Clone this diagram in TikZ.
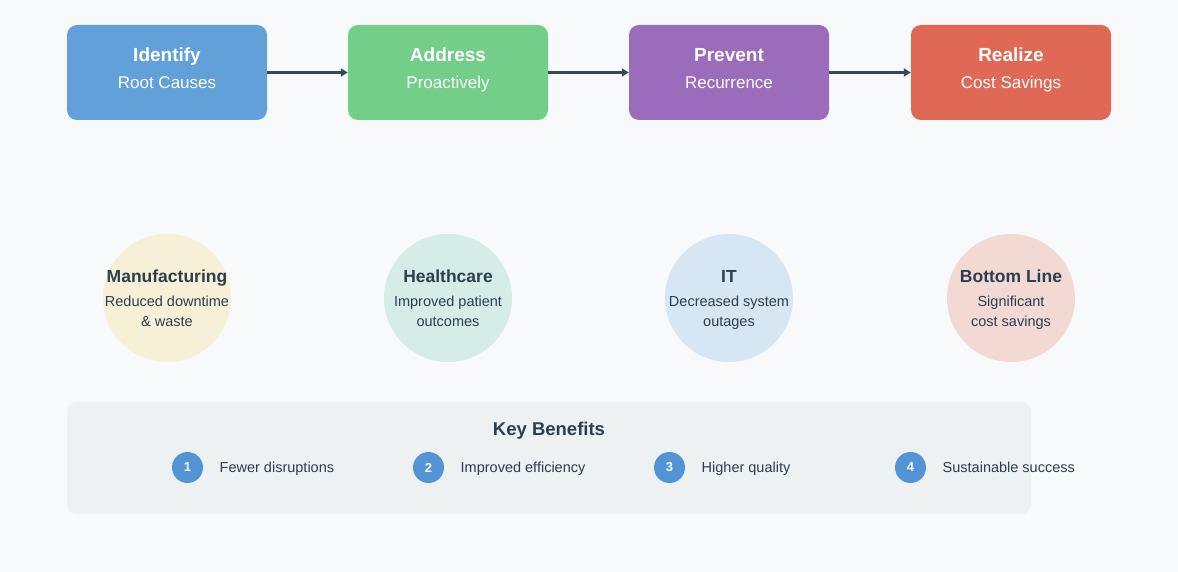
\documentclass[tikz,border=0pt]{standalone}
\usepackage{fontspec}
\setmainfont{Liberation Sans}
\usetikzlibrary{arrows.meta}
\definecolor{bg}{HTML}{F8F9FB}
\definecolor{cblue}{HTML}{62A0DA}
\definecolor{cgreen}{HTML}{73CE8A}
\definecolor{cpurple}{HTML}{9B6CBB}
\definecolor{cred}{HTML}{E06955}
\definecolor{lyellow}{HTML}{F6F0D6}
\definecolor{lteal}{HTML}{D6ECE6}
\definecolor{lblue}{HTML}{D6E6F3}
\definecolor{lpink}{HTML}{F3D9D4}
\definecolor{keybg}{HTML}{EDF1F2}
\definecolor{numblue}{HTML}{5294D6}
\definecolor{dark}{HTML}{2C3E50}
\definecolor{arrowc}{HTML}{34495E}
\tikzset{
  stepbox/.style={draw=none, rounded corners=10pt, minimum width=200pt, minimum height=95pt, inner sep=0pt},
  btitle/.style={anchor=base, text=white, inner sep=0pt, font=\fontsize{19}{23}\selectfont\bfseries},
  bsub/.style={anchor=base, text=white, inner sep=0pt, font=\fontsize{17}{20}\selectfont},
  arr/.style={draw=arrowc, line width=3pt, -{Triangle[length=7pt,width=8pt]}},
  area/.style={circle, draw=none, minimum size=128pt, inner sep=0pt},
  ctitle/.style={anchor=base, text=dark, inner sep=0pt, font=\fontsize{17.5}{21}\selectfont\bfseries},
  ctext/.style={anchor=base, text=dark, inner sep=0pt, font=\fontsize{14.5}{17}\selectfont},
  numc/.style={circle, fill=numblue, minimum size=31pt, inner sep=0pt, text=white, font=\fontsize{13}{15}\selectfont\bfseries},
  btext/.style={anchor=base west, text=dark, inner sep=0pt, font=\fontsize{14.5}{17}\selectfont},
}
\begin{document}
\begin{tikzpicture}[x=1pt,y=-1pt]
\fill[bg] (0,0) rectangle (1178,572);
\useasboundingbox (0,0) rectangle (1178,572);
% top boxes
\node[stepbox, fill=cblue] (b1) at (167,72.5) {};
\node[stepbox, fill=cgreen] (b2) at (448,72.5) {};
\node[stepbox, fill=cpurple] (b3) at (729,72.5) {};
\node[stepbox, fill=cred] (b4) at (1011,72.5) {};
\node[btitle] (t1) at (167,61.5) {Identify};
\node[bsub] (s1) at (167,89) {Root Causes};
\node[btitle] (t2) at (448,61.5) {Address};
\node[bsub] (s2) at (448,89) {Proactively};
\node[btitle] (t3) at (729,61.5) {Prevent};
\node[bsub] (s3) at (729,89) {Recurrence};
\node[btitle] (t4) at (1011,61.5) {Realize};
\node[bsub] (s4) at (1011,89) {Cost Savings};
\draw[arr] (b1.east) -- (b2.west);
\draw[arr] (b2.east) -- (b3.west);
\draw[arr] (b3.east) -- (b4.west);
% circles
\node[area, fill=lyellow] (c1) at (167,298) {};
\node[area, fill=lteal] (c2) at (448,298) {};
\node[area, fill=lblue] (c3) at (729,298) {};
\node[area, fill=lpink] (c4) at (1011,298) {};
\node[ctitle] (ct1) at (167,282.5) {Manufacturing};
\node[ctext] (ca1) at (167,306.5) {Reduced downtime};
\node[ctext] (cb1) at (167,326.5) {\& waste};
\node[ctitle] (ct2) at (448,282.5) {Healthcare};
\node[ctext] (ca2) at (448,306.5) {Improved patient};
\node[ctext] (cb2) at (448,326.5) {outcomes};
\node[ctitle] (ct3) at (729,282.5) {IT};
\node[ctext] (ca3) at (729,306.5) {Decreased system};
\node[ctext] (cb3) at (729,326.5) {outages};
\node[ctitle] (ct4) at (1011,282.5) {Bottom Line};
\node[ctext] (ca4) at (1011,306.5) {Significant};
\node[ctext] (cb4) at (1011,326.5) {cost savings};
% key benefits
\node[draw=none, fill=keybg, rounded corners=10pt, minimum width=964pt, minimum height=112pt, inner sep=0pt] (kb) at (549,458) {};
\node[anchor=base, text=dark, inner sep=0pt, font=\fontsize{18.5}{22}\selectfont\bfseries] (kbt) at (549,435) {Key Benefits};
\node[numc] (n1) at (187.5,467.5) {1};
\node[numc] (n2) at (428.5,467.5) {2};
\node[numc] (n3) at (669.5,467.5) {3};
\node[numc] (n4) at (910.5,467.5) {4};
\node[btext] (l1) at (219.5,472) {Fewer disruptions};
\node[btext] (l2) at (460.5,472) {Improved efficiency};
\node[btext] (l3) at (701.5,472) {Higher quality};
\node[btext] (l4) at (942.5,472) {Sustainable success};
\end{tikzpicture}
\end{document}
